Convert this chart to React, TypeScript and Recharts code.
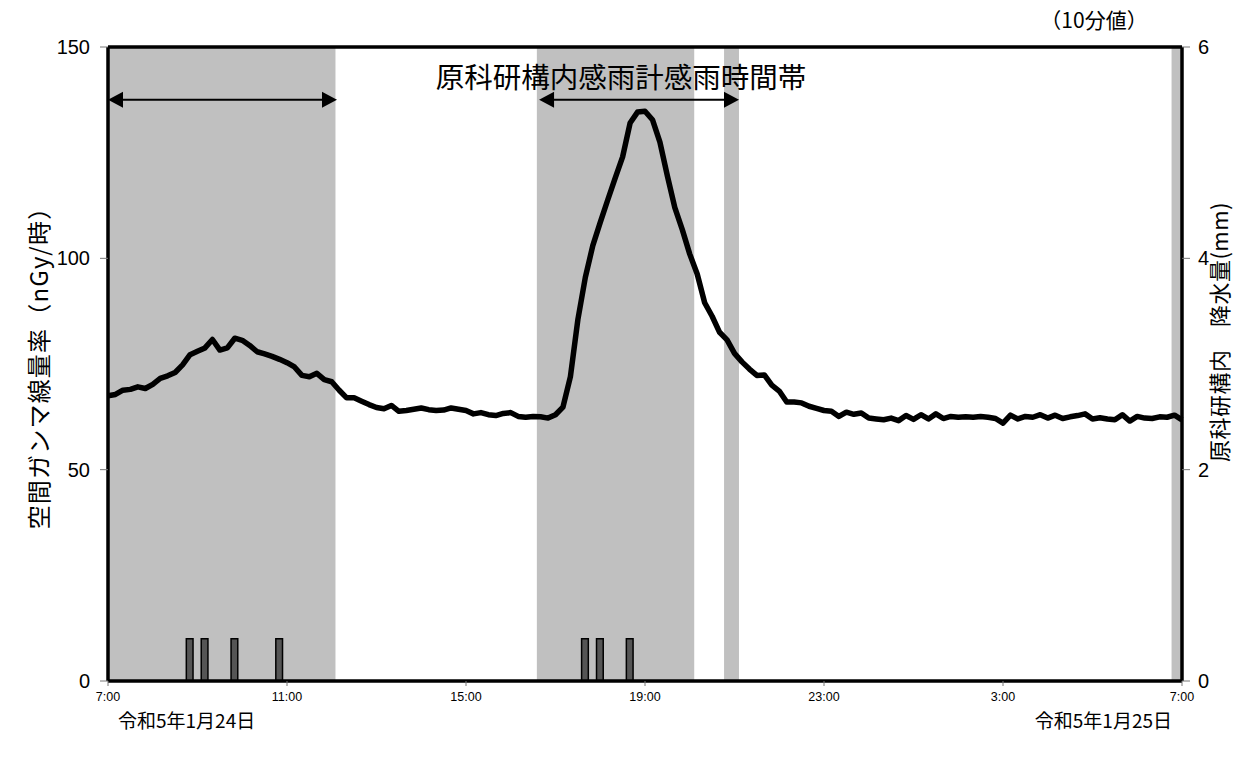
import React from "react";
import {
  Bar,
  ComposedChart,
  Line,
  ReferenceArea,
  ReferenceLine,
  XAxis,
  YAxis,
} from "recharts";

// 空間ガンマ線量率 (nGy/時), 10分値, 7:00 から 翌7:00 まで
const gammaRate = [
  67.5, 67.8, 68.8, 69.0, 69.6, 69.2, 70.2, 71.6, 72.2, 73.0,
  74.8, 77.2, 78.0, 78.8, 80.8, 78.3, 78.8, 81.1, 80.6, 79.4,
  77.9, 77.4, 76.8, 76.1, 75.3, 74.3, 72.3, 72.0, 72.8, 71.3,
  70.8, 68.8, 67.0, 67.0, 66.2, 65.4, 64.7, 64.4, 65.2, 63.8,
  64.0, 64.3, 64.6, 64.2, 64.0, 64.1, 64.6, 64.3, 64.0, 63.2,
  63.5, 63.0, 62.8, 63.3, 63.5, 62.6, 62.4, 62.6, 62.5, 62.2,
  63.0, 64.8, 72.0, 85.5, 95.5, 103.0, 108.5, 113.8, 119.0, 124.0,
  132.0, 134.6, 134.8, 132.8, 127.5, 119.5, 112.0, 106.8, 101.0, 96.3,
  89.5, 86.3, 82.5, 80.7, 77.5, 75.5, 73.8, 72.3, 72.4, 70.0,
  68.6, 66.0, 66.0, 65.8, 65.0, 64.5, 64.0, 63.8, 62.6, 63.6,
  63.1, 63.4, 62.2, 62.0, 61.8, 62.2, 61.6, 62.8, 61.9, 63.0,
  62.0, 63.2, 62.1, 62.6, 62.4, 62.5, 62.4, 62.6, 62.4, 62.1,
  61.0, 62.9, 62.0, 62.6, 62.4, 63.0, 62.2, 62.9, 62.1, 62.5,
  62.8, 63.2, 62.0, 62.3, 62.0, 61.8, 63.0, 61.5, 62.6, 62.2,
  62.1, 62.5, 62.4, 62.9, 61.8,
];

// 降水量 (mm): 7:00 からの経過分
const rainMinutes = [110, 130, 170, 230, 640, 660, 700];
const rainAmounts = [0.4, 0.4, 0.4, 0.4, 0.4, 0.4, 0.4];

// 感雨時間帯 (7:00 からの経過分)
const rainBands = [
  [0, 305],
  [575, 786],
  [826, 846],
  [1426, 1440],
];
const arrowSpans = [
  [0, 307],
  [578, 846],
];

const xTicks = [0, 240, 480, 720, 960, 1200, 1440];
const xTickLabels = ["7:00", "11:00", "15:00", "19:00", "23:00", "3:00", "7:00"];
const leftTicks = [0, 50, 100, 150];
const rightTicks = [0, 2, 4, 6];

const chartData = gammaRate.map((g, i) => {
  const t = i * 10;
  const k = rainMinutes.indexOf(t);
  return { t, gamma: g, rain: k >= 0 ? rainAmounts[k] : null };
});

const FONT = "'Liberation Sans', 'Noto Sans CJK JP', sans-serif";
const JP = "'Noto Sans CJK JP', 'Liberation Sans', sans-serif";

const W = 1255;
const H = 758;
const PLOT_TOP = 47;
const PLOT_BOTTOM = 681;
const ARROW_Y = 137.5;

const fmtX = (v: number) => xTickLabels[xTicks.indexOf(v)] ?? "";

const arrowShape = (p: any) => {
  const { x1, x2, y1 } = p;
  const h = 15;
  const w = 8;
  return (
    <g>
      <line x1={x1 + 4} y1={y1} x2={x2 - 4} y2={y1} stroke="#000" strokeWidth={2} />
      <polygon points={`${x1},${y1} ${x1 + h},${y1 - w} ${x1 + h},${y1 + w}`} fill="#000" />
      <polygon points={`${x2},${y1} ${x2 - h},${y1 - w} ${x2 - h},${y1 + w}`} fill="#000" />
    </g>
  );
};

export default function App() {
  return (
    <div style={{ position: "absolute", left: 0, top: 0, width: W, height: H, background: "#fff" }}>
      <ComposedChart
        width={W}
        height={H}
        data={chartData}
        margin={{ top: PLOT_TOP, right: 0, left: 0, bottom: H - PLOT_BOTTOM - 30 }}
      >
        <XAxis
          dataKey="t"
          type="number"
          domain={[0, 1440]}
          ticks={xTicks}
          tickFormatter={fmtX}
          height={30}
          axisLine={{ stroke: "#000", strokeWidth: 3.5 }}
          tickLine={{ stroke: "#777", strokeWidth: 1 }}
          tickSize={5}
          tick={{ fontSize: 12.5, fill: "#000", fontFamily: FONT }}
          tickMargin={6}
        />
        <YAxis
          yAxisId="left"
          domain={[0, 150]}
          ticks={leftTicks}
          width={108}
          axisLine={{ stroke: "#000", strokeWidth: 3.5 }}
          tickLine={{ stroke: "#777", strokeWidth: 1 }}
          tickSize={8}
          tickMargin={10}
          tick={{ fontSize: 20, fill: "#000", fontFamily: FONT }}
        />
        <YAxis
          yAxisId="right"
          orientation="right"
          domain={[0, 6]}
          ticks={rightTicks}
          width={73}
          axisLine={{ stroke: "#000", strokeWidth: 3.5 }}
          tickLine={{ stroke: "#777", strokeWidth: 1 }}
          tickSize={8}
          tickMargin={8}
          tick={{ fontSize: 20, fill: "#000", fontFamily: FONT }}
        />
        {rainBands.map(([a, b], i) => (
          <ReferenceArea
            key={"band" + i}
            yAxisId="left"
            x1={a}
            x2={b}
            y1={0}
            y2={150}
            fill="#c0c0c0"
            fillOpacity={1}
            stroke="none"
          />
        ))}
        <ReferenceLine yAxisId="left" y={150} stroke="#000" strokeWidth={3.5} />
        {arrowSpans.map(([a, b], i) => (
          <ReferenceLine
            key={"arrow" + i}
            yAxisId="left"
            segment={[
              { x: a, y: ARROW_Y },
              { x: b, y: ARROW_Y },
            ]}
            shape={arrowShape}
          />
        ))}
        <Bar
          yAxisId="right"
          dataKey="rain"
          barSize={8}
          fill="#555"
          stroke="#000"
          strokeWidth={1.5}
          isAnimationActive={false}
        />
        <Line
          yAxisId="left"
          dataKey="gamma"
          type="linear"
          stroke="#000"
          strokeWidth={5.5}
          strokeLinejoin="round"
          dot={false}
          isAnimationActive={false}
        />
      </ComposedChart>
      <svg
        width={W}
        height={H}
        style={{ position: "absolute", left: 0, top: 0, pointerEvents: "none" }}
      >
        <text x={1094} y={19} fontSize={21} fontFamily={JP} textAnchor="middle" dominantBaseline="central">
          （10分値）
        </text>
        <text x={621} y={75} fontSize={28.5} fontFamily={JP} textAnchor="middle" dominantBaseline="central">
          原科研構内感雨計感雨時間帯
        </text>
        <text
          x={37}
          y={362}
          fontSize={24}
          letterSpacing={1.2}
          fontFamily={JP}
          textAnchor="middle"
          dominantBaseline="central"
          transform="rotate(-90 37 362)"
        >
          空間ガンマ線量率（nGy/時）
        </text>
        <text
          x={1218}
          y={332}
          fontSize={22}
          letterSpacing={0.5}
          fontFamily={JP}
          textAnchor="middle"
          dominantBaseline="central"
          transform="rotate(-90 1218 332)"
        >
          原科研構内　降水量(mm)
        </text>
        <text x={118} y={719} fontSize={19} fontFamily={JP} dominantBaseline="central">
          令和5年1月24日
        </text>
        <text x={1172} y={719} fontSize={19} fontFamily={JP} textAnchor="end" dominantBaseline="central">
          令和5年1月25日
        </text>
      </svg>
    </div>
  );
}
